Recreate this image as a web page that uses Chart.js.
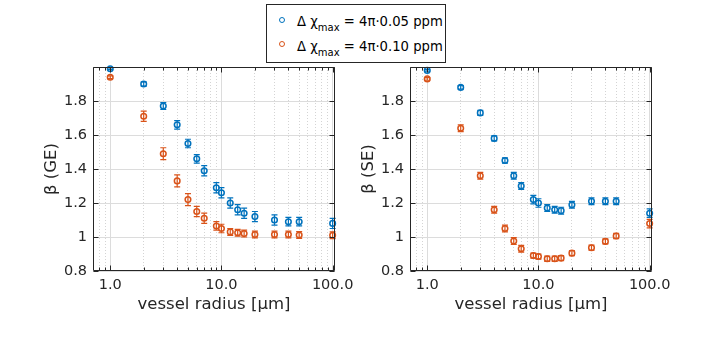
<!DOCTYPE html>
<html>
<head>
<meta charset="utf-8">
<script src="https://cdn.jsdelivr.net/npm/chart.js@4.4.1/dist/chart.umd.min.js"></script>
<style>
  body { margin: 0; background: #fff; }
  #wrap { position: relative; width: 720px; height: 339px; overflow: hidden; font-family: 'DejaVu Sans', sans-serif; }
  canvas { position: absolute; top: 0; }
  #geChart { left: 0; }
  #seChart { left: 317px; }
  .legend { position: absolute; left: 266px; top: 4px; width: 178px; height: 57px; border: 1px solid #262626; background: #fff; }
  .row { position: absolute; left: 30px; font-size: 13.2px; line-height: 15px; white-space: nowrap; color: #000; }
  .mk { position: absolute; left: 12px; width: 4px; height: 4px; border: 1.5px solid; border-radius: 50%; }
  .row sub { font-size: 10px; vertical-align: baseline; position: relative; top: 5px; }
</style>
</head>
<body>
<div id="wrap">
  <canvas id="geChart" width="360" height="339"></canvas>
  <canvas id="seChart" width="360" height="339"></canvas>
  <div class="legend">
    <span class="mk" style="top:11.5px; border-color:#0072BD"></span>
    <div class="row" style="top:9px">Δ χ<sub>max</sub> = 4π·0.05 ppm</div>
    <span class="mk" style="top:36px; border-color:#D95319"></span>
    <div class="row" style="top:33.5px">Δ χ<sub>max</sub> = 4π·0.10 ppm</div>
  </div>
</div>
<script>
// vessel radii (µm)
const radii = [1, 2, 3, 4, 5, 6, 7, 9, 10, 12, 14, 16, 20, 30, 40, 50, 100];

// gradient echo
const geLow     = [1.99, 1.90, 1.77, 1.66, 1.55, 1.46, 1.39, 1.29, 1.26, 1.20, 1.16, 1.14, 1.12, 1.10, 1.09, 1.09, 1.08];
const geLowErr  = [0.005, 0.012, 0.02, 0.025, 0.025, 0.025, 0.03, 0.03, 0.03, 0.03, 0.03, 0.03, 0.03, 0.03, 0.025, 0.025, 0.03];
const geHigh    = [1.94, 1.71, 1.49, 1.33, 1.22, 1.15, 1.11, 1.065, 1.05, 1.03, 1.025, 1.02, 1.015, 1.015, 1.015, 1.012, 1.01];
const geHighErr = [0.008, 0.03, 0.035, 0.035, 0.035, 0.03, 0.03, 0.025, 0.025, 0.02, 0.02, 0.02, 0.02, 0.02, 0.02, 0.02, 0.02];

// spin echo
const seLow     = [1.98, 1.88, 1.73, 1.58, 1.45, 1.36, 1.30, 1.22, 1.20, 1.17, 1.16, 1.155, 1.19, 1.21, 1.21, 1.21, 1.14];
const seLowErr  = [0.005, 0.01, 0.015, 0.015, 0.015, 0.02, 0.02, 0.025, 0.025, 0.02, 0.02, 0.02, 0.02, 0.02, 0.02, 0.02, 0.025];
const seHigh    = [1.93, 1.64, 1.36, 1.16, 1.05, 0.976, 0.931, 0.891, 0.885, 0.872, 0.872, 0.876, 0.905, 0.937, 0.974, 1.006, 1.079];
const seHighErr = [0.008, 0.02, 0.02, 0.02, 0.02, 0.02, 0.02, 0.015, 0.015, 0.015, 0.015, 0.015, 0.015, 0.015, 0.015, 0.015, 0.025];

// ticks
const xMajor = [1, 10, 100];
const xTickLabels = ['1.0', '10.0', '100.0'];
const xMinor = [0.8, 0.9, 2, 3, 4, 5, 6, 7, 8, 9, 20, 30, 40, 50, 60, 70, 80, 90];
const yTicks = [0.8, 1.0, 1.2, 1.4, 1.6, 1.8, 2.0];
const yTickLabels = ['0.8', '1', '1.2', '1.4', '1.6', '1.8', ''];

const BLUE = '#0072BD';
const ORANGE = '#D95319';
const INK = '#262626';

Chart.defaults.font.family = "'DejaVu Sans', sans-serif";
Chart.defaults.color = INK;

const isMajor = v => xMajor.includes(v);

const errorBars = {
  id: 'errorBars',
  afterDatasetsDraw(chart) {
    const { ctx, scales: { x, y } } = chart;
    chart.data.datasets.forEach(ds => {
      ctx.save();
      ctx.strokeStyle = ds.borderColor;
      ctx.lineWidth = 1.2;
      ds.data.forEach((p, i) => {
        const px = x.getPixelForValue(p.x);
        const lo = y.getPixelForValue(p.y - ds.err[i]);
        const hi = y.getPixelForValue(p.y + ds.err[i]);
        ctx.beginPath();
        ctx.moveTo(px, lo); ctx.lineTo(px, hi);
        ctx.moveTo(px - 3, lo); ctx.lineTo(px + 3, lo);
        ctx.moveTo(px - 3, hi); ctx.lineTo(px + 3, hi);
        ctx.stroke();
      });
      ctx.restore();
    });
  }
};

// box around the axes with inward ticks, matlab style
const axesBox = {
  id: 'axesBox',
  afterDraw(chart) {
    const { ctx, chartArea: a, scales: { x, y } } = chart;
    const L = Math.round(a.left) + 0.5, R = Math.round(a.right) - 0.5;
    const T = Math.round(a.top) + 0.5, B = Math.round(a.bottom) - 0.5;
    ctx.save();
    ctx.strokeStyle = INK;
    ctx.lineWidth = 1;
    ctx.beginPath();
    ctx.rect(L, T, R - L, B - T);
    x.ticks.forEach(t => {
      const px = Math.round(x.getPixelForValue(t.value)) + 0.5;
      const len = isMajor(t.value) ? 5 : 3;
      ctx.moveTo(px, B); ctx.lineTo(px, B - len);
      ctx.moveTo(px, T); ctx.lineTo(px, T + len);
    });
    y.ticks.forEach(t => {
      const py = Math.round(y.getPixelForValue(t.value)) + 0.5;
      ctx.moveTo(L, py); ctx.lineTo(L + 5, py);
      ctx.moveTo(R, py); ctx.lineTo(R - 5, py);
    });
    ctx.stroke();
    ctx.restore();
  }
};

function makePanel(id, yTitle, low, lowErr, high, highErr) {
  const pts = vals => radii.map((r, i) => ({ x: r, y: vals[i] }));
  const series = (vals, err, color) => ({
    data: pts(vals),
    err: err,
    borderColor: color,
    backgroundColor: 'rgba(0,0,0,0)',
    pointRadius: 2.8,
    pointBorderWidth: 1.5,
    pointHoverRadius: 2.8,
    showLine: false,
    clip: false
  });
  new Chart(document.getElementById(id), {
    type: 'scatter',
    data: {
      datasets: [
        series(low, lowErr, BLUE),
        series(high, highErr, ORANGE)
      ]
    },
    options: {
      responsive: false,
      animation: false,
      devicePixelRatio: 1,
      layout: { padding: { left: 42, right: 25, top: 67, bottom: 24 } },
      plugins: { legend: { display: false }, tooltip: { enabled: false } },
      scales: {
        x: {
          type: 'logarithmic',
          min: 0.7,
          max: 105,
          afterBuildTicks: s => { s.ticks = xMinor.concat(xMajor).sort((a, b) => a - b).map(v => ({ value: v })); },
          afterFit: s => { s.height = 44; },
          ticks: {
            autoSkip: false,
            maxRotation: 0,
            padding: 6,
            font: { size: 14.5 },
            callback: v => { const k = xMajor.indexOf(v); return k >= 0 ? xTickLabels[k] : ''; }
          },
          grid: {
            drawTicks: false,
            lineWidth: 1,
            color: c => (c.tick && isMajor(c.tick.value)) ? '#dcdcdc' : '#d4d4d4'
          },
          border: {
            display: false,
            dash: c => (c.tick && !isMajor(c.tick.value)) ? [1, 2] : []
          },
          title: { display: true, text: 'vessel radius [µm]', font: { size: 16.5 }, padding: 0 }
        },
        y: {
          min: 0.8,
          max: 2.0,
          afterBuildTicks: s => { s.ticks = yTicks.map(v => ({ value: v })); },
          afterFit: s => { s.width = 51; },
          ticks: {
            padding: 6,
            font: { size: 14.5 },
            callback: (v, i) => yTickLabels[i]
          },
          grid: { drawTicks: false, lineWidth: 1, color: '#dcdcdc' },
          border: { display: false },
          title: { display: true, text: yTitle, font: { size: 16.5 }, padding: 0 }
        }
      }
    },
    plugins: [errorBars, axesBox]
  });
}

makePanel('geChart', 'β (GE)', geLow, geLowErr, geHigh, geHighErr);
makePanel('seChart', 'β (SE)', seLow, seLowErr, seHigh, seHighErr);
</script>
</body>
</html>
